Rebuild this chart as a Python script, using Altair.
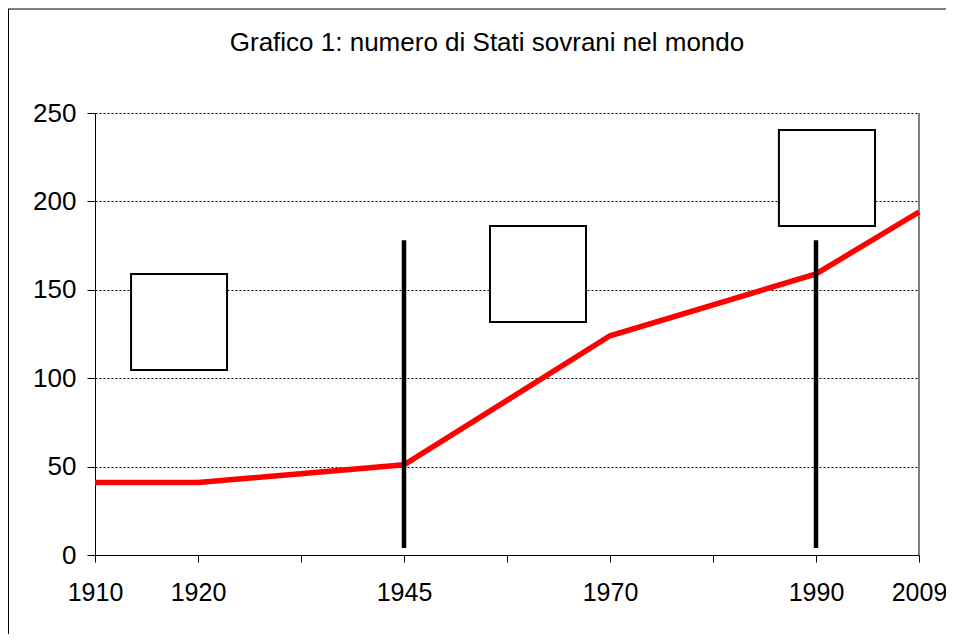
import json
import altair as alt
import pandas as pd

# ---- data ----
title_text = "Grafico 1: numero di Stati sovrani nel mondo"
category_labels = ["1910", "1920", "", "1945", "", "1970", "", "1990", "2009"]
years = ["1910", "1920", "1945", "1970", "1990", "2009"]
states = [41, 41, 51, 124, 159, 194]
marker_years = ["1945", "1990"]
marker_low = [4, 4]
marker_high = [178, 178]
box_x_start = [0.35, 3.835, 6.64]
box_x_end = [1.282, 4.767, 7.573]
box_y_low = [104.6, 131.8, 186.1]
box_y_high = [159.0, 186.1, 240.4]
y_ticks = [0, 50, 100, 150, 200, 250]

FONT = "Liberation Sans"
cat_pos = list(range(len(category_labels)))
pos_of = {lab: i for i, lab in enumerate(category_labels) if lab}

line_df = pd.DataFrame({"pos": [pos_of[y] for y in years], "anno": years, "stati": states})
marker_df = pd.DataFrame({"pos": [pos_of[y] for y in marker_years], "lo": marker_low, "hi": marker_high})
box_df = pd.DataFrame({"x1": box_x_start, "x2": box_x_end, "y1": box_y_low, "y2": box_y_high})
one = pd.DataFrame({"k": [0]})

x_scale = alt.Scale(domain=[0, len(category_labels) - 1], nice=False, zero=False)
y_scale = alt.Scale(domain=[0, 250], nice=False)

x_axis = alt.Axis(
    title=None, values=cat_pos, labelExpr=f"{json.dumps(category_labels)}[datum.value]",
    grid=False, tickSize=7, tickColor="black", domainColor="black", labelPadding=18,
    labelFontSize=25, labelFont=FONT, labelColor="black", labelOverlap=False, labelFlush=False,
)
y_axis = alt.Axis(
    title=None, values=y_ticks, grid=True, gridColor="black", gridDash=[2, 2], gridWidth=1,
    tickSize=8, tickColor="black", domainColor="black", labelPadding=11,
    labelFontSize=26, labelFont=FONT, labelColor="black",
)

boxes = alt.Chart(box_df).mark_rect(fill="white", stroke="black", strokeWidth=2).encode(
    x=alt.X("x1:Q", scale=x_scale, axis=x_axis), x2="x2:Q",
    y=alt.Y("y1:Q", scale=y_scale, axis=y_axis), y2="y2:Q",
)

right_edge = alt.Chart(one).mark_rule(color="black", strokeWidth=1).encode(
    x=alt.datum(len(category_labels) - 1, scale=x_scale, axis=x_axis),
    y=alt.datum(0, scale=y_scale, axis=y_axis), y2=alt.datum(250),
)

line = alt.Chart(line_df).mark_line(color="#FF0000", strokeWidth=5.5).encode(
    x=alt.X("pos:Q", scale=x_scale, axis=x_axis),
    y=alt.Y("stati:Q", scale=y_scale, axis=y_axis),
)

markers = alt.Chart(marker_df).mark_rule(color="black", strokeWidth=4.5).encode(
    x=alt.X("pos:Q", scale=x_scale, axis=x_axis),
    y=alt.Y("lo:Q", scale=y_scale, axis=y_axis), y2="hi:Q",
)

title_mark = alt.Chart(one).mark_text(
    text=title_text, font=FONT, fontSize=26, color="black", align="center", baseline="alphabetic"
).encode(x=alt.value(392), y=alt.value(-62))

frame_left = alt.Chart(one).mark_rule(color="black", strokeWidth=1).encode(
    x=alt.value(-86.5), y=alt.value(-104), y2=alt.value(530)
)
frame_top = alt.Chart(one).mark_rule(color="black", strokeWidth=1).encode(
    x=alt.value(-87), x2=alt.value(851), y=alt.value(-104)
)

chart = alt.layer(boxes, right_edge, line, markers, title_mark, frame_left, frame_top).properties(
    width=824, height=442,
    autosize=alt.AutoSizeParams(type="none"),
    padding={"left": 87, "top": 105, "right": 27, "bottom": 79},
).configure(background="white", view=alt.ViewConfig(stroke=None))

chart.save("out.html", embed_options={"renderer": "svg", "actions": False})
